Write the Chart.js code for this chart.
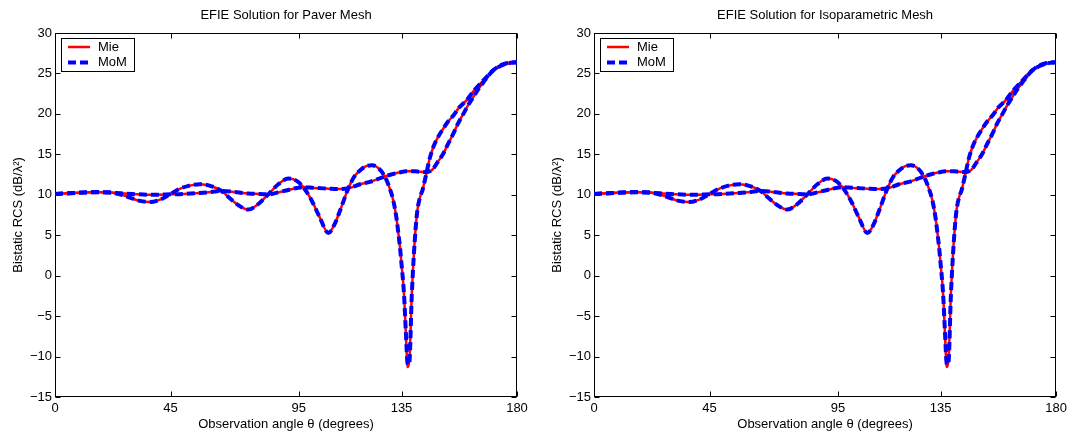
<!DOCTYPE html>
<html>
<head>
<meta charset="utf-8">
<script src="https://cdn.jsdelivr.net/npm/chart.js@4.4.1/dist/chart.umd.min.js"></script>
<style>
  html, body { margin: 0; padding: 0; background: #fff; }
  #wrap { position: relative; width: 1071px; height: 432px; }
  canvas { position: absolute; top: 0; }
  #paverChart { left: 0; }
  #isoChart { left: 536px; }
</style>
</head>
<body>
<div id="wrap">
  <canvas id="paverChart" width="536" height="432"></canvas>
  <canvas id="isoChart" width="535" height="432"></canvas>
</div>
<script>
// tick labels on the angle axis
const xTicks = [0, 45, 95, 135, 180];

// first branch (oscillating, deep null near 137 deg)
const thetaA = [0, 5, 10, 15, 20, 23.5, 27, 30, 33, 37, 41, 44.8, 48, 52, 56.5, 61, 64.9, 68, 71.5, 75.3,
  79, 83.1, 87, 90.9, 94, 96.7, 100, 103, 106.5, 109, 111, 114.3, 116.5, 118.8, 121, 123.4, 126, 128.6,
  130.5, 131.8, 133, 133.8, 134.5, 135.1, 135.7, 136.1, 136.7, 137.4, 137.9, 138.3, 138.9, 139.4, 139.9,
  140.5, 141.2, 142.2, 143.2, 144.8, 146, 147.4, 149, 151.3, 153, 155.2, 157.5, 160.4, 163, 165.6, 168,
  170.1, 172.5, 175.3, 178, 180];
const mieA = [10.1, 10.18, 10.27, 10.32, 10.3, 10.2, 9.9, 9.55, 9.25, 9.1, 9.4, 10.05, 10.65, 11.1, 11.3, 11.05, 10.47, 9.6, 8.7, 8.17,
  8.8, 10.05, 11.3, 12.0, 11.75, 10.96, 9.3, 7.3, 5.28, 6.4, 8.0, 10.8, 12.2, 13.0, 13.5, 13.64, 13.3, 12.2,
  10.7, 9.3, 7.2, 5.2, 3.2, 1.1, -1.0, -3.0, -7.2, -11.3, -10.8, -9.2, -3.1, 0.3, 3.1,
  5.8, 8.1, 9.7, 10.6, 12.8, 14.5, 15.9, 17.0, 18.2, 19.0, 19.8, 20.8, 21.7, 22.8, 23.7, 24.5,
  25.2, 25.8, 26.2, 26.35, 26.4];
const momA = [10.1, 10.18, 10.27, 10.32, 10.3, 10.2, 9.9, 9.55, 9.25, 9.1, 9.4, 10.05, 10.65, 11.1, 11.3, 11.05, 10.47, 9.6, 8.7, 8.17,
  8.8, 10.05, 11.3, 12.0, 11.75, 10.96, 9.3, 7.3, 5.28, 6.4, 8.0, 10.8, 12.2, 13.0, 13.5, 13.64, 13.3, 12.2,
  10.7, 9.3, 7.2, 5.2, 3.2, 1.1, -1.0, -3.0, -7.0, -10.9, -11.0, -9.6, -3.3, 0.2, 3.0,
  5.8, 8.1, 9.7, 10.6, 12.8, 14.5, 15.9, 17.0, 18.2, 19.0, 19.8, 20.8, 21.7, 22.8, 23.7, 24.5,
  25.2, 25.8, 26.2, 26.35, 26.4];

// second branch (smooth, flat near 12.8 before the rise)
const thetaB = [0, 10, 17, 23.5, 30, 37, 44.8, 50, 56.5, 61, 64.9, 70, 75.3, 80, 83.1, 87, 90.9, 96.7, 101,
  106.5, 110, 114.3, 118.8, 122.7, 125.5, 128.6, 131.5, 134, 137, 140, 142.2, 144.8, 146, 147.4, 149,
  151.3, 153, 155.2, 157, 159.1, 161, 163, 165, 166.9, 168.8, 170.8, 173.4, 176, 180];
const mieB = [10.1, 10.25, 10.34, 10.22, 10.1, 10.0, 10.05, 10.1, 10.22, 10.35, 10.47, 10.35, 10.15, 10.1, 10.05, 10.3, 10.6, 10.95, 10.85,
  10.76, 10.7, 10.8, 11.3, 11.6, 11.9, 12.28, 12.55, 12.75, 12.9, 12.9, 12.85, 12.82, 12.9, 13.24, 14.0,
  15.1, 16.2, 17.56, 18.8, 20.0, 21.1, 22.1, 23.1, 23.9, 24.7, 25.4, 25.9, 26.2, 26.4];
const momB = [10.1, 10.25, 10.34, 10.22, 10.1, 10.0, 10.05, 10.1, 10.22, 10.35, 10.47, 10.35, 10.15, 10.1, 10.05, 10.3, 10.6, 10.95, 10.85,
  10.76, 10.7, 10.8, 11.3, 11.6, 11.9, 12.28, 12.55, 12.75, 12.9, 12.9, 12.85, 12.82, 12.9, 13.24, 14.0,
  15.1, 16.2, 17.56, 18.8, 20.0, 21.1, 22.1, 23.1, 23.9, 24.7, 25.4, 25.9, 26.2, 26.4];

Chart.defaults.font.family = '"Liberation Sans", Arial, Helvetica, sans-serif';
Chart.defaults.font.size = 13;
Chart.defaults.color = '#000';

function points(thetas, values) {
  return thetas.map((t, i) => ({ x: t, y: values[i] }));
}

// matlab-like box with inward ticks on all four sides
const axesBox = {
  id: 'axesBox',
  beforeDatasetsDraw(chart) {
    const { ctx, chartArea: a, scales } = chart;
    const L = Math.round(a.left) + 0.5, R = Math.round(a.right) - 0.5;
    const T = Math.round(a.top) + 0.5, B = Math.round(a.bottom) - 0.5;
    ctx.save();
    ctx.strokeStyle = '#000';
    ctx.lineWidth = 1;
    ctx.strokeRect(L, T, R - L, B - T);
    ctx.beginPath();
    scales.x.ticks.forEach(t => {
      const px = Math.round(scales.x.getPixelForValue(t.value)) + 0.5;
      ctx.moveTo(px, B); ctx.lineTo(px, B - 5);
      ctx.moveTo(px, T); ctx.lineTo(px, T + 5);
    });
    scales.y.ticks.forEach(t => {
      const py = Math.round(scales.y.getPixelForValue(t.value)) + 0.5;
      ctx.moveTo(L, py); ctx.lineTo(L + 5, py);
      ctx.moveTo(R, py); ctx.lineTo(R - 5, py);
    });
    ctx.stroke();
    ctx.restore();
  }
};

// legend box in the upper left corner of the plot
const insideLegend = {
  id: 'insideLegend',
  afterDatasetsDraw(chart) {
    const { ctx, chartArea } = chart;
    const x0 = Math.round(chartArea.left) + 6, y0 = Math.round(chartArea.top) + 5;
    const w = 73, h = 33;
    ctx.save();
    ctx.fillStyle = '#fff';
    ctx.fillRect(x0, y0, w, h);
    ctx.strokeStyle = '#000';
    ctx.lineWidth = 1;
    ctx.strokeRect(x0 + 0.5, y0 + 0.5, w, h);
    const entries = chart.data.datasets.filter(d => d.inLegend);
    entries.forEach((d, i) => {
      const ly = y0 + 9 + i * 15.6;
      ctx.beginPath();
      ctx.setLineDash(d.borderDash || []);
      ctx.lineWidth = d.borderWidth;
      ctx.strokeStyle = d.borderColor;
      ctx.moveTo(x0 + 7, ly);
      ctx.lineTo(x0 + 29, ly);
      ctx.stroke();
      ctx.setLineDash([]);
      ctx.fillStyle = '#000';
      ctx.font = '13px "Liberation Sans", Arial, sans-serif';
      ctx.textBaseline = 'middle';
      ctx.fillText(d.label, x0 + 37, ly);
    });
    ctx.restore();
  }
};

function makePanel(id, title, yWidth, rightPad, yTitlePad) {
  const mie = { borderColor: '#ff0000', borderWidth: 2.5, pointRadius: 0, cubicInterpolationMode: 'monotone', order: 2 };
  const mom = { borderColor: '#0000ff', borderWidth: 4, borderDash: [8, 4], pointRadius: 0, cubicInterpolationMode: 'monotone', order: 1 };
  return new Chart(document.getElementById(id), {
    type: 'line',
    data: {
      datasets: [
        { ...mie, label: 'Mie', inLegend: true, data: points(thetaA, mieA) },
        { ...mie, label: 'Mie', data: points(thetaB, mieB) },
        { ...mom, label: 'MoM', inLegend: true, data: points(thetaA, momA) },
        { ...mom, label: 'MoM', data: points(thetaB, momB) },
      ],
    },
    options: {
      responsive: false,
      animation: false,
      layout: { padding: { left: 0, right: rightPad, top: 0, bottom: 0 } },
      plugins: {
        legend: { display: false },
        tooltip: { enabled: false },
        title: {
          display: true,
          text: title,
          fullSize: false,
          color: '#000',
          font: { size: 13, weight: 'normal' },
          padding: { top: 8, bottom: 9.4 },
        },
      },
      scales: {
        x: {
          type: 'linear',
          min: 0,
          max: 180,
          afterBuildTicks: (s) => { s.ticks = xTicks.map(v => ({ value: v })); },
          afterFit: (s) => { s.height = 35; },
          grid: { display: false, drawTicks: false },
          border: { display: false },
          ticks: { autoSkip: false, maxRotation: 0, padding: 4 },
          title: { display: true, text: 'Observation angle θ (degrees)', padding: { top: 0, bottom: 0 } },
        },
        y: {
          min: -15,
          max: 30,
          afterFit: (s) => { s.width = yWidth; },
          grid: { display: false, drawTicks: false },
          border: { display: false },
          ticks: { stepSize: 5, padding: 3, callback: (v) => String(v).replace('-', '\u2212') },
          title: { display: true, text: 'Bistatic RCS (dB/λ²)', padding: { top: yTitlePad, bottom: 0 } },
        },
      },
    },
    plugins: [axesBox, insideLegend],
  });
}

makePanel('paverChart', 'EFIE Solution for Paver Mesh', 55, 19, 11);
makePanel('isoChart', 'EFIE Solution for Isoparametric Mesh', 58, 14, 14);
</script>
</body>
</html>
